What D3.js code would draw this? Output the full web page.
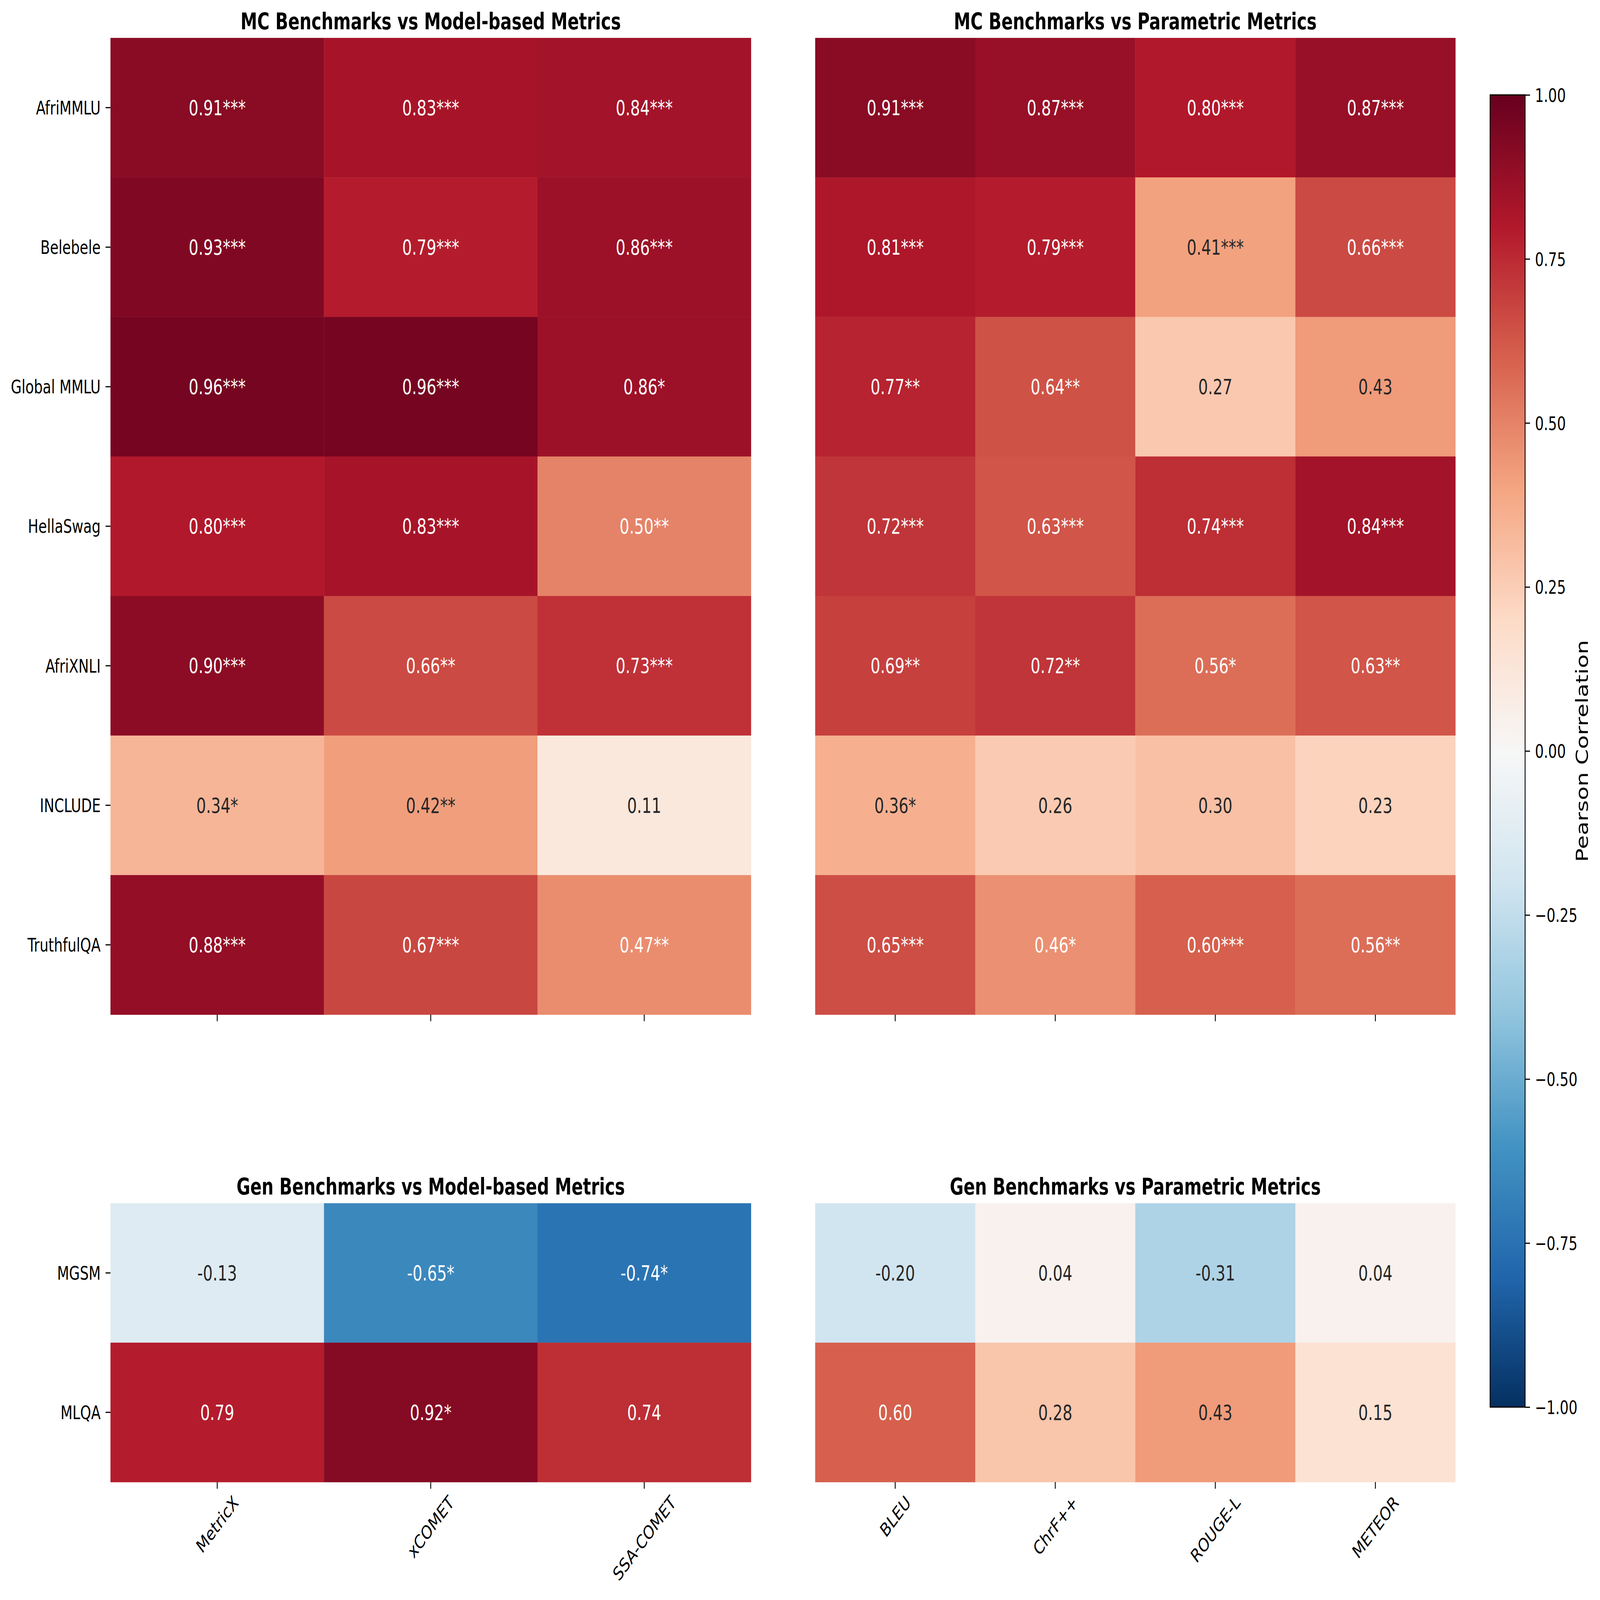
<!DOCTYPE html>
<html><head><meta charset="utf-8">
<script src="https://cdn.jsdelivr.net/npm/d3@7"></script>
<style>html,body{margin:0;padding:0;background:#fff;overflow:hidden}svg{display:block;width:100vw;height:100vh}text{font-family:"DejaVu Sans",sans-serif}</style>
</head><body>
<script>
// ---------- data ----------
const mcBenchmarks = ["AfriMMLU","Belebele","Global MMLU","HellaSwag","AfriXNLI","INCLUDE","TruthfulQA"];
const genBenchmarks = ["MGSM","MLQA"];
const modelMetrics = ["MetricX","xCOMET","SSA-COMET"];
const paramMetrics = ["BLEU","ChrF++","ROUGE-L","METEOR"];

const mcModelValues = [
  [0.91,0.83,0.84],[0.93,0.79,0.86],[0.96,0.96,0.86],[0.80,0.83,0.50],
  [0.90,0.66,0.73],[0.34,0.42,0.11],[0.88,0.67,0.47]];
const mcModelSig = [
  ["***","***","***"],["***","***","***"],["***","***","*"],["***","***","**"],
  ["***","**","***"],["*","**",""],["***","***","**"]];
const mcParamValues = [
  [0.91,0.87,0.80,0.87],[0.81,0.79,0.41,0.66],[0.77,0.64,0.27,0.43],[0.72,0.63,0.74,0.84],
  [0.69,0.72,0.56,0.63],[0.36,0.26,0.30,0.23],[0.65,0.46,0.60,0.56]];
const mcParamSig = [
  ["***","***","***","***"],["***","***","***","***"],["**","**","",""],["***","***","***","***"],
  ["**","**","*","**"],["*","","",""],["***","*","***","**"]];
const genModelValues = [[-0.13,-0.65,-0.74],[0.79,0.92,0.74]];
const genModelSig = [["","*","*"],["","*",""]];
const genParamValues = [[-0.20,0.04,-0.31,0.04],[0.60,0.28,0.43,0.15]];
const genParamSig = [["","","",""],["","","",""]];

const panelTitles = ["MC Benchmarks vs Model-based Metrics","MC Benchmarks vs Parametric Metrics",
                     "Gen Benchmarks vs Model-based Metrics","Gen Benchmarks vs Parametric Metrics"];
const colorbarTicks = [1,0.75,0.5,0.25,0,-0.25,-0.5,-0.75,-1];
const colorbarLabel = "Pearson Correlation";

// ---------- colormap (matplotlib RdBu_r, linear segments) ----------
const rdbuStops = ["#053061","#2166ac","#4393c3","#92c5de","#d1e5f0","#f7f7f7","#fddbc7","#f4a582","#d6604d","#b2182b","#67001f"];
const color = d3.scaleLinear().domain(d3.range(11).map(i => -1 + i*0.2)).range(rdbuStops).interpolate(d3.interpolateRgb).clamp(true);
function lum(c){
  const rgb = d3.rgb(c);
  const f = v => { v/=255; return v <= 0.03928 ? v/12.92 : Math.pow((v+0.055)/1.055, 2.4); };
  return 0.2126*f(rgb.r)+0.7152*f(rgb.g)+0.0722*f(rgb.b);
}

// ---------- layout ----------
const W = 5533, H = 4097;
const svg = d3.select("body").append("svg").attr("viewBox",`0 0 ${W} ${H}`).attr("preserveAspectRatio","none");
svg.append("rect").attr("width",W).attr("height",H).attr("fill","#fff");

const colL = [382, 2597], colR = [2819, 5033];
const rowTop = [97, 2598], rowBot = [3081, 3795];
const TICK_FS = 48, ANN_FS = 53, TITLE_FS = 58, TICKLEN = 17, PAD = 17;

function panel(cfg){
  const x = d3.scaleBand().domain(cfg.cols).range(cfg.xr).padding(0);
  const y = d3.scaleBand().domain(cfg.rows).range(cfg.yr).padding(0);
  const g = svg.append("g");
  cfg.rows.forEach((r,i) => cfg.cols.forEach((c,j) => {
    const v = cfg.vals[i][j];
    const fill = color(v);
    g.append("rect").attr("x",x(c)).attr("y",y(r)).attr("width",x.bandwidth()+0.5).attr("height",y.bandwidth()+0.5).attr("fill",fill);
    g.append("text").attr("x",x(c)+x.bandwidth()/2).attr("y",y(r)+y.bandwidth()/2).attr("dy","0.36em")
      .attr("text-anchor","middle").attr("font-size",ANN_FS)
      .attr("fill", lum(fill) > 0.408 ? "#262626" : "#ffffff")
      .text(v.toFixed(2) + cfg.sig[i][j]);
  }));
  g.append("text").attr("x",(cfg.xr[0]+cfg.xr[1])/2).attr("y",cfg.yr[0]-22).attr("text-anchor","middle")
    .attr("font-size",TITLE_FS).attr("font-weight","bold").text(cfg.title);
  const yb = cfg.yr[1];
  cfg.cols.forEach(c => {
    const cx = x(c)+x.bandwidth()/2;
    g.append("line").attr("x1",cx).attr("x2",cx).attr("y1",yb).attr("y2",yb+TICKLEN).attr("stroke","#000").attr("stroke-width",3);
    if (cfg.xlabels){
      const t = g.append("text").attr("font-size",TICK_FS).attr("text-anchor","middle").attr("dy","0.36em").text(c);
      const w = t.node().getComputedTextLength();
      const cy = yb + TICKLEN + PAD + (w + 35)*Math.SQRT1_2/2 - 3;
      t.attr("transform",`translate(${cx},${cy}) rotate(-45)`);
    }
  });
  if (cfg.ylabels){
    cfg.rows.forEach(r => {
      const cy = y(r)+y.bandwidth()/2;
      g.append("line").attr("x1",cfg.xr[0]-TICKLEN).attr("x2",cfg.xr[0]).attr("y1",cy).attr("y2",cy).attr("stroke","#000").attr("stroke-width",3);
      g.append("text").attr("x",cfg.xr[0]-TICKLEN-PAD).attr("y",cy).attr("dy","0.36em").attr("text-anchor","end")
        .attr("font-size",TICK_FS).text(r);
    });
  }
}

panel({rows:mcBenchmarks, cols:modelMetrics, vals:mcModelValues, sig:mcModelSig, xr:colL, yr:rowTop, title:panelTitles[0], ylabels:true, xlabels:false});
panel({rows:mcBenchmarks, cols:paramMetrics, vals:mcParamValues, sig:mcParamSig, xr:colR, yr:rowTop, title:panelTitles[1], ylabels:false, xlabels:false});
panel({rows:genBenchmarks, cols:modelMetrics, vals:genModelValues, sig:genModelSig, xr:colL, yr:rowBot, title:panelTitles[2], ylabels:true, xlabels:true});
panel({rows:genBenchmarks, cols:paramMetrics, vals:genParamValues, sig:genParamSig, xr:colR, yr:rowBot, title:panelTitles[3], ylabels:false, xlabels:true});

// ---------- colorbar ----------
const cbX = 5153, cbW = 121, cbTop = 243, cbBot = 3603;
const cbScale = d3.scaleLinear().domain([1,-1]).range([cbTop, cbBot]);
const defs = svg.append("defs");
const grad = defs.append("linearGradient").attr("id","cbgrad").attr("x1",0).attr("y1",1).attr("x2",0).attr("y2",0);
rdbuStops.forEach((c,i) => grad.append("stop").attr("offset", i/10).attr("stop-color", c));
svg.append("rect").attr("x",cbX).attr("y",cbTop).attr("width",cbW).attr("height",cbBot-cbTop).attr("fill","url(#cbgrad)")
  .attr("stroke","#000").attr("stroke-width",3);
const cbAxis = d3.axisRight(cbScale).tickValues(colorbarTicks).tickSize(TICKLEN).tickPadding(PAD)
  .tickFormat(d => d3.format(".2f")(d).replace("-","\u2212"));
const ax = svg.append("g").attr("transform",`translate(${cbX+cbW},0)`).call(cbAxis);
ax.select(".domain").remove();
ax.selectAll(".tick line").attr("stroke","#000").attr("stroke-width",3);
ax.selectAll(".tick text").attr("font-size",TICK_FS).attr("font-family","DejaVu Sans").attr("fill","#000").attr("dy","0.36em");
svg.append("text").attr("transform",`translate(5491,${(cbTop+cbBot)/2}) rotate(-90)`).attr("text-anchor","middle")
  .attr("font-size",TITLE_FS).text(colorbarLabel);
</script>
</body></html>
